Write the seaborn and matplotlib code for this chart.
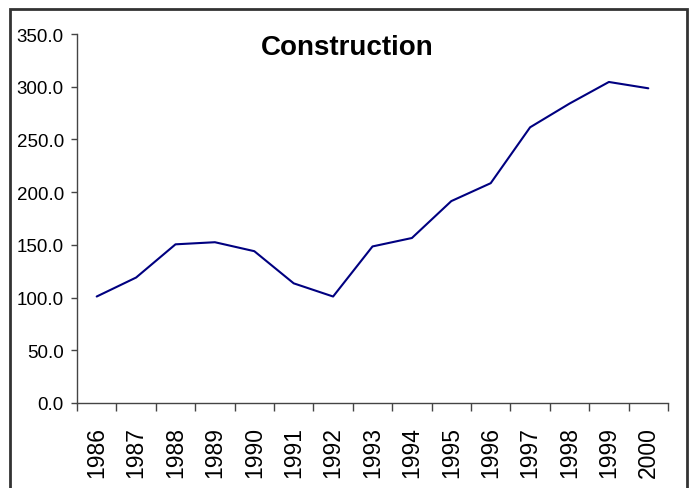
import numpy as np
import pandas as pd
import matplotlib
matplotlib.use("Agg")
from matplotlib import pyplot as plt
from matplotlib.patches import Rectangle
from matplotlib.ticker import FixedLocator
import seaborn as sns

years = [1986, 1987, 1988, 1989, 1990, 1991, 1992, 1993, 1994, 1995, 1996, 1997, 1998, 1999, 2000]
values = [101.0, 119.0, 150.5, 152.5, 144.0, 113.5, 101.0, 148.5, 156.5, 191.5, 208.5, 261.5, 284.0, 304.5, 298.5]
y_ticks = [0, 50, 100, 150, 200, 250, 300, 350]

df = pd.DataFrame({"year": years, "value": values})

sns.set_style("ticks")
plt.rcParams["font.family"] = ["Liberation Sans", "DejaVu Sans"]
plt.rcParams["text.color"] = "black"
plt.rcParams["xtick.color"] = "#444444"
plt.rcParams["ytick.color"] = "#444444"
plt.rcParams["xtick.labelcolor"] = "black"
plt.rcParams["ytick.labelcolor"] = "black"

fig = plt.figure(figsize=(6.93, 4.89), dpi=100)
ax = fig.add_axes([77 / 693, 1 - 404 / 489, (668 - 77) / 693, (404 - 35) / 489])

sns.lineplot(data=df, x="year", y="value", color="#000080", linewidth=1.5, ax=ax)

ax.set_xlim(years[0] - 0.5, years[-1] + 0.5)
ax.set_ylim(0, 350)
ax.set_yticks(y_ticks)
ax.set_yticklabels([f"{v:.1f}" for v in y_ticks], fontsize=13.5)
ax.set_xticks(years)
ax.set_xticklabels([str(y) for y in years], rotation=90, fontsize=16.5)
ax.xaxis.set_minor_locator(FixedLocator([y - 0.5 for y in years] + [years[-1] + 0.5]))
ax.tick_params(axis="x", which="major", length=0, pad=16.5)
ax.tick_params(axis="x", which="minor", length=6, width=1, direction="out")
ax.tick_params(axis="y", length=4.5, width=1, direction="out", pad=5)
ax.set_xlabel("")
ax.set_ylabel("")
sns.despine(ax=ax)
for s in ["left", "bottom"]:
    ax.spines[s].set_color("#444444")
    ax.spines[s].set_linewidth(1)

fig.text(347 / 693, 1 - 48 / 489, "Construction", ha="center", va="center",
         fontsize=20, fontweight="bold", color="black")

fig.patches.append(Rectangle((10 / 693, -0.05), 677 / 693, 1.05 - 10 / 489,
                             transform=fig.transFigure, fill=False,
                             edgecolor="#333333", linewidth=2))

fig.savefig("out.png", dpi=100)
